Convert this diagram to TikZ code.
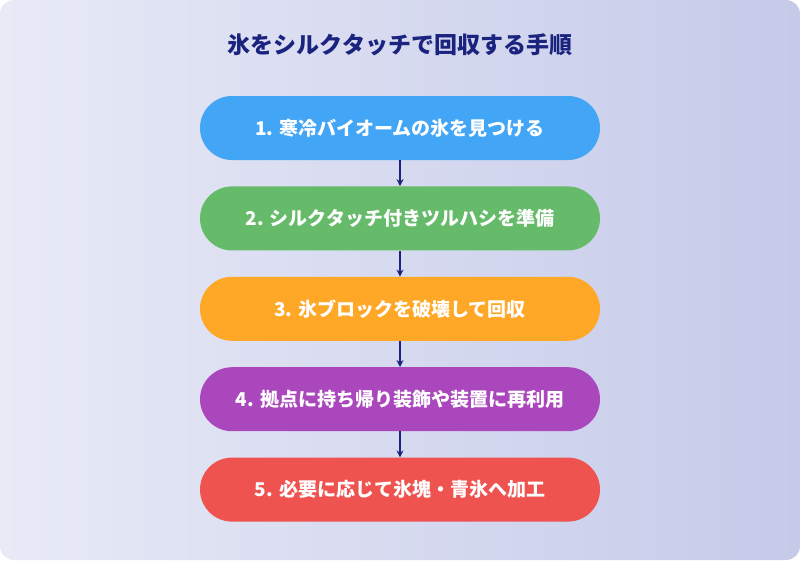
\documentclass[tikz,border=0pt]{standalone}
\usepackage{fontspec}
\setmainfont{Noto Sans CJK JP}
\usetikzlibrary{positioning}
\definecolor{bgtl}{HTML}{E8EAF6}
\definecolor{bgbr}{HTML}{C5CAE9}
\definecolor{navy}{HTML}{1A237E}
\definecolor{sblue}{HTML}{42A5F5}
\definecolor{sgreen}{HTML}{66BB6A}
\definecolor{sorange}{HTML}{FFA726}
\definecolor{spurple}{HTML}{AB47BC}
\definecolor{sred}{HTML}{EF5350}
\tikzset{stepbox/.style = {rounded corners = 32pt, minimum width = 400pt, minimum height = 64pt,
                        text = white, font = \bfseries\fontsize{19}{22}\selectfont},
         link/.style = {navy, line width = 1.8pt, -{Stealth[length=7pt, width=7pt]}}}
\usetikzlibrary{arrows.meta}

\begin{document}
\begin{tikzpicture}[x = 1pt, y = -1pt]
    \shade [shading angle = 135, left color = bgtl, right color = bgbr, rounded corners = 14pt] (0, 0) rectangle (800, 560);
    \useasboundingbox (0, 0) rectangle (800, 560);

    \node [navy, font = \bfseries\fontsize{23}{26}\selectfont] (title) at (400, 45) {氷をシルクタッチで回収する手順};

    \node [stepbox, fill = sblue] (s1) at (400, 128) {1. 寒冷バイオームの氷を見つける};
    \node [stepbox, fill = sgreen, below = 26pt of s1] (s2) {2. シルクタッチ付きツルハシを準備};
    \node [stepbox, fill = sorange, below = 26pt of s2] (s3) {3. 氷ブロックを破壊して回収};
    \node [stepbox, fill = spurple, below = 26pt of s3] (s4) {4. 拠点に持ち帰り装飾や装置に再利用};
    \node [stepbox, fill = sred, below = 26pt of s4] (s5) {5. 必要に応じて氷塊・青氷へ加工};

    \draw [link] (s1) -- (s2);
    \draw [link] (s2) -- (s3);
    \draw [link] (s3) -- (s4);
    \draw [link] (s4) -- (s5);
\end{tikzpicture}
\end{document}
